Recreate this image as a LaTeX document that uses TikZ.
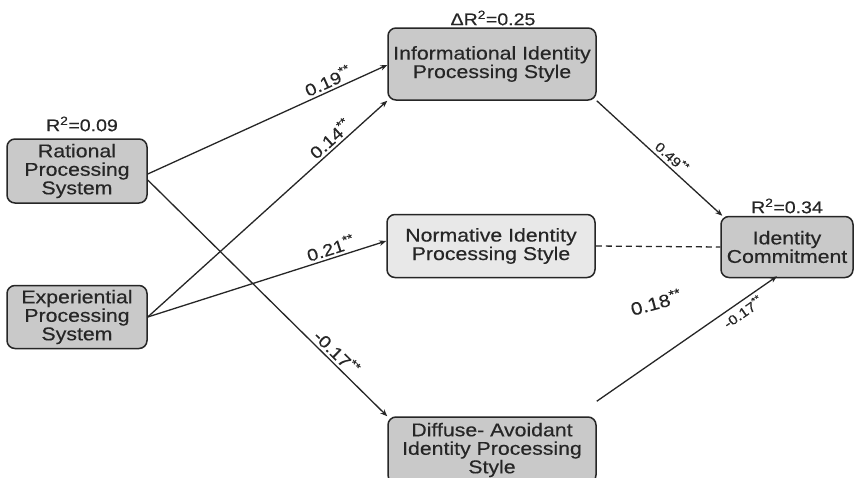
\documentclass[tikz,border=0pt]{standalone}
\usepackage{fontspec}
\setmainfont{Liberation Sans}[FakeStretch=1.15,FakeBold=0.35]
\usetikzlibrary{arrows.meta}
\definecolor{boxgray}{HTML}{C9C9C9}
\definecolor{boxlight}{HTML}{E8E8E8}
\definecolor{ink}{HTML}{262626}
\begin{document}
\begin{tikzpicture}[x=1pt,y=-1pt,
  box/.style={draw=ink,line width=1.5pt,rounded corners=8pt,fill=boxgray,align=center,
    font=\fontsize{18.5}{18.5}\selectfont,text=ink,inner sep=0pt},
  rlab/.style={font=\fontsize{17}{18}\selectfont,text=ink,inner sep=0pt},
  coef/.style={font=\fontsize{17}{18}\selectfont,text=ink,sloped,inner sep=2.5pt},
  smallcoef/.style={font=\fontsize{13.5}{15}\selectfont,text=ink,sloped,inner sep=3pt},
  path/.style={draw=ink,line width=1.3pt,-{Stealth[length=7pt,width=5.5pt]}},
  nopath/.style={draw=ink,line width=1.3pt,dash pattern=on 6pt off 4pt}]
\useasboundingbox (0,0) rectangle (854,477);
\fill[white] (0,0) rectangle (854,477);

\node[box,minimum width=140pt,minimum height=64pt] (rat) at (77,171) {Rational\\Processing\\System};
\node[box,minimum width=140pt,minimum height=63pt] (exp) at (77,317) {Experiential\\Processing\\System};
\node[box,minimum width=208pt,minimum height=72pt] (inf) at (492,64) {Informational Identity\\Processing Style};
\node[box,fill=boxlight,minimum width=208pt,minimum height=63pt] (nor) at (491,246) {Normative Identity\\Processing Style};
\node[box,minimum width=208pt,minimum height=66pt] (dif) at (492,450) {Diffuse- Avoidant\\Identity Processing\\Style};
\node[box,minimum width=132pt,minimum height=61pt] (id) at (787,247) {Identity\\Commitment};

\node[rlab] (r1) at (82,124) {R\textsuperscript{2}=0.09};
\node[rlab] (r2) at (493,18) {ΔR\textsuperscript{2}=0.25};
\node[rlab] (r3) at (787,206) {R\textsuperscript{2}=0.34};

\draw[path] ([yshift=-3pt]rat.east) -- node[coef,above,pos=0.77] (c1) {0.19\textsuperscript{**}} ([yshift=-1pt]inf.west);
\draw[path] ([yshift=-9pt]rat.east) -- node[coef,above,pos=0.76] (c4) {-0.17\textsuperscript{**}} (dif.north west);
\draw[path] (exp.east) -- node[coef,above,pos=0.79] (c2) {0.14\textsuperscript{**}} (inf.south west);
\draw[path] (exp.east) -- node[coef,above,pos=0.78] (c3) {0.21\textsuperscript{**}} ([yshift=5pt]nor.west);
\draw[path] (inf.south east) -- node[smallcoef,above,pos=0.55] (c5) {0.49\textsuperscript{**}} ([xshift=2pt]id.north west);
\draw[nopath] (nor.east) -- (id.west);
\draw[path] ([yshift=15pt]dif.north east) -- node[smallcoef,below,pos=0.78] (c6) {-0.17\textsuperscript{**}} ([xshift=-10pt,yshift=2pt]id.south);
\node[font=\fontsize{18}{20}\selectfont,text=ink,rotate=15] (c7) at (656,302) {0.18\textsuperscript{**}};
\end{tikzpicture}
\end{document}
